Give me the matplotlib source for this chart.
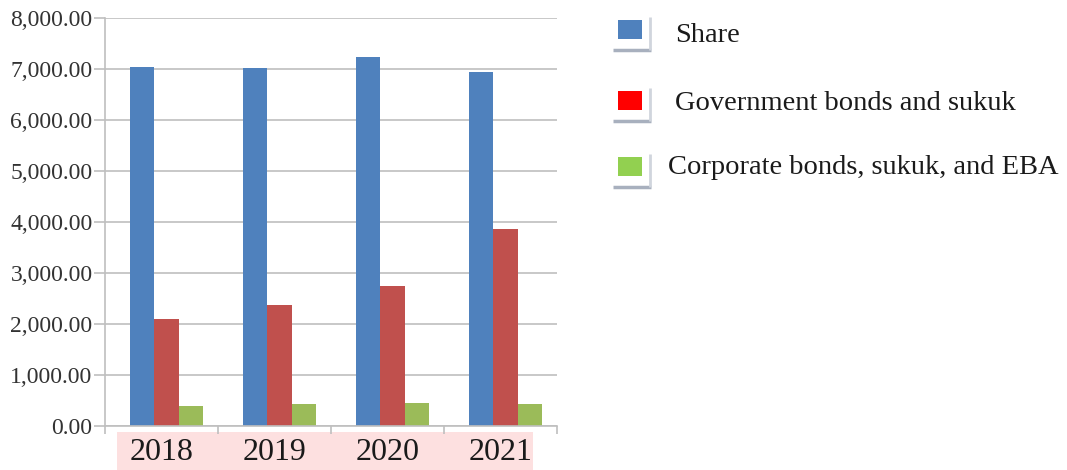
import matplotlib
matplotlib.use("Agg")
import matplotlib.pyplot as plt
import numpy as np
from matplotlib.patches import Rectangle
from matplotlib.ticker import FuncFormatter, MultipleLocator

years = ["2018", "2019", "2020", "2021"]
series_names = ["Share", "Government bonds and sukuk", "Corporate bonds, sukuk, and EBA"]
share = [7030, 7010, 7240, 6950]
gov_bonds = [2090, 2370, 2750, 3870]
corp_bonds = [385, 425, 445, 425]

bar_colors = ["#4F81BD", "#C0504D", "#9BBB59"]
legend_colors = ["#4F81BD", "#FF0000", "#92D050"]

plt.rcParams['font.family'] = ['Liberation Serif', 'DejaVu Serif']

fig = plt.figure(figsize=(10.67, 4.70), dpi=100)
W, H = 1067, 470

# pink band behind year labels
bg = fig.add_axes([0, 0, 1, 1], zorder=0)
bg.set_xlim(0, W); bg.set_ylim(H, 0); bg.axis('off')
bg.add_patch(Rectangle((117, 432), 416, 38, facecolor="#FDE0E0", edgecolor="none"))

ax = fig.add_axes([105 / W, 1 - 426 / H, (557 - 105) / W, (426 - 18) / H], zorder=1)
ax.patch.set_alpha(0)

x = np.arange(len(years))
bw = 0.217
shift = 0.045
for i, (vals, c) in enumerate(zip([share, gov_bonds, corp_bonds], bar_colors)):
    ax.bar(x + shift + (i - 1) * bw, vals, width=bw, color=c, zorder=2)

ax.set_xlim(-0.5, 3.5)
ax.set_ylim(0, 8000)
ax.yaxis.set_major_locator(MultipleLocator(1000))
ax.yaxis.set_major_formatter(FuncFormatter(lambda v, p: f"{v:,.2f}"))
ax.grid(axis='y', color="#BFBFBF", linewidth=1.2, zorder=0)
ax.set_axisbelow(True)
for s in ["top", "right"]:
    ax.spines[s].set_visible(False)
for s in ["left", "bottom"]:
    ax.spines[s].set_color("#BFBFBF")
    ax.spines[s].set_linewidth(1.2)

ax.set_xticks(np.arange(-0.5, 4.0, 1.0))
ax.set_xticklabels([])
ax.tick_params(axis='x', which='major', length=6, color="#BFBFBF", width=1.2)
ax.set_xticks(x, minor=True)
ax.set_xticklabels(years, minor=True, fontsize=23, color="#1a1a1a")
ax.tick_params(axis='x', which='minor', length=0, pad=9)
ax.tick_params(axis='y', length=8, color="#BFBFBF", width=1.2, labelsize=17,
               labelcolor="#333333", pad=1)

# legend drawn in pixel coordinates
leg = fig.add_axes([0, 0, 1, 1], zorder=2)
leg.set_xlim(0, W); leg.set_ylim(H, 0); leg.axis('off')
rows = [(20, 36, 675), (91, 103, 675), (157, 168, 668)]
for (sq_top, ty, tx), name, c in zip(rows, series_names, legend_colors):
    leg.add_patch(Rectangle((618, sq_top), 24, 19, facecolor=c, edgecolor="none"))
    leg.plot([613, 651], [sq_top + 30, sq_top + 30], color="#A8B0BE", lw=2.5, solid_capstyle='butt')
    leg.plot([650, 650], [sq_top - 3, sq_top + 30], color="#D0D5DD", lw=2, solid_capstyle='butt')
    leg.text(tx, ty, name, fontsize=20.5, va='center', ha='left', color="#1a1a1a")

fig.savefig("out.png", dpi=100)
